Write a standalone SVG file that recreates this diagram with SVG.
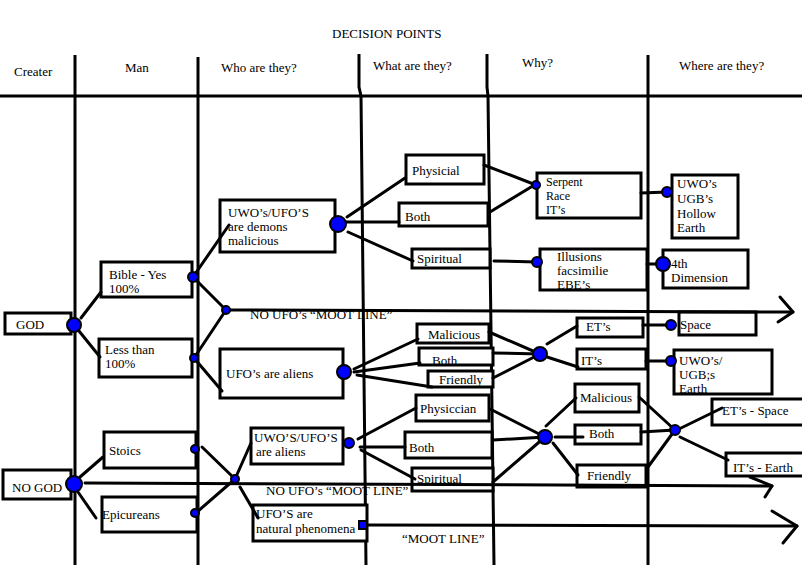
<svg xmlns="http://www.w3.org/2000/svg" width="802" height="565" viewBox="0 0 802 565">
<style>
.ln{stroke:#000;stroke-width:3;fill:none;stroke-linecap:round;stroke-linejoin:round}
.grid{stroke:#000;stroke-width:3;fill:none}
.box{fill:#fff;stroke:#000;stroke-width:3}
.nd{fill:#0000ff;stroke:#000;stroke-width:2}
text{font-family:"Liberation Serif","Times New Roman",serif;font-size:13px;fill:#000}
.sm{font-size:12px}
</style>
<rect width="802" height="565" fill="#fff"/>
<g id="header">
<line class="grid" x1="0" y1="96" x2="802" y2="96"/>
<line class="grid" x1="75" y1="55" x2="75" y2="565"/>
<line class="grid" x1="198" y1="57" x2="198" y2="565"/>
<polyline class="grid" points="359,54 359,87 361,96 366,565"/>
<polyline class="grid" points="487,54 487,87 488,96 494,565"/>
<line class="grid" x1="648" y1="55" x2="648" y2="565"/>
<text x="332" y="38">DECISION POINTS</text>
<text x="14" y="76">Creater</text>
<text x="125" y="72">Man</text>
<text x="221" y="72">Who are they?</text>
<text x="373" y="70">What are they?</text>
<text x="522" y="67">Why?</text>
<text x="679" y="70">Where are they?</text>
</g>
<g id="god"><rect class="box" x="5" y="313" width="66" height="21"/><text x="16" y="329">GOD</text></g>
<g id="bible"><rect class="box" x="101" y="262" width="91" height="35"/><text x="109" y="279">Bible - Yes</text><text x="109" y="293">100%</text></g>
<g id="less"><rect class="box" x="99" y="339" width="93" height="38"/><text x="105" y="354">Less than</text><text x="105" y="368">100%</text></g>
<g id="demons"><rect class="box" x="220" y="200" width="115" height="52"/><text x="228" y="217">UWO’s/UFO’S</text><text x="228" y="231">are demons</text><text x="228" y="245">malicious</text></g>
<g id="aliens1"><rect class="box" x="220" y="349" width="123" height="49"/><text x="226" y="378">UFO’s are aliens</text></g>
<g id="physicial"><rect class="box" x="406" y="155" width="78" height="29"/><text x="412" y="175">Physicial</text></g>
<g id="both1"><rect class="box" x="399" y="203" width="89" height="23"/><text x="405" y="221">Both</text></g>
<g id="spiritual1"><rect class="box" x="412" y="249" width="78" height="19"/><text x="417" y="263">Spiritual</text></g>
<g id="serpent"><rect class="box" x="537" y="173" width="104" height="45"/><text class="sm" x="546" y="186">Serpent</text><text class="sm" x="546" y="200">Race</text><text class="sm" x="546" y="214">IT’s</text></g>
<g id="illusions"><rect class="box" x="540" y="249" width="107" height="41"/><text x="557" y="261">Illusions</text><text x="557" y="275">facsimilie</text><text x="557" y="289">EBE’s</text></g>
<g id="hollow"><rect class="box" x="672" y="175" width="66" height="63"/><text x="677" y="188">UWO’s</text><text x="677" y="203">UGB’s</text><text x="677" y="218">Hollow</text><text x="677" y="232">Earth</text></g>
<g id="fourth"><rect class="box" x="663" y="250" width="85" height="38"/><text x="671" y="268">4th</text><text x="671" y="282">Dimension</text></g>
<g id="malicious1"><rect class="box" x="417" y="324" width="72" height="19"/><text x="428" y="339">Malicious</text></g>
<g id="both2"><rect class="box" x="419" y="348" width="74" height="17"/><text x="432" y="365">Both</text></g>
<g id="friendly1"><rect class="box" x="428" y="371" width="65" height="16"/><text x="439" y="384">Friendly</text></g>
<g id="ets"><rect class="box" x="577" y="318" width="66" height="19"/><text x="586" y="331">ET’s</text></g>
<g id="its"><rect class="box" x="577" y="349" width="69" height="20"/><text x="581" y="365">IT’s</text></g>
<g id="space"><rect class="box" x="679" y="312" width="77" height="23"/><text x="680" y="329">Space</text></g>
<g id="uwoearth"><rect class="box" x="674" y="350" width="98" height="44"/><text x="679" y="365">UWO’s/</text><text x="679" y="379">UGB;s</text><text x="679" y="393">Earth</text></g>
<g id="nogod"><rect class="box" x="3" y="470" width="68" height="29"/><text x="12" y="492">NO GOD</text></g>
<g id="stoics"><rect class="box" x="104" y="432" width="92" height="36"/><text x="109" y="455">Stoics</text></g>
<g id="epicureans"><rect class="box" x="102" y="497" width="95" height="35"/><text x="102" y="519">Epicureans</text></g>
<g id="aliens2"><rect class="box" x="251" y="428" width="92" height="36"/><text x="254" y="442">UWO’S/UFO’S</text><text x="256" y="456">are aliens</text></g>
<g id="natural"><rect class="box" x="253" y="505" width="114" height="36"/><text x="256" y="518">UFO’S are</text><text x="256" y="533">natural phenomena</text></g>
<g id="physiccian"><rect class="box" x="416" y="395" width="73" height="26"/><text x="420" y="413">Physiccian</text></g>
<g id="both3"><rect class="box" x="405" y="432" width="87" height="26"/><text x="409" y="452">Both</text></g>
<g id="spiritual2"><rect class="box" x="412" y="468" width="81" height="23"/><text x="417" y="483">Spiritual</text></g>
<g id="malicious2"><rect class="box" x="575" y="384" width="64" height="28"/><text x="580" y="402">Malicious</text></g>
<g id="both4"><rect class="box" x="575" y="425" width="66" height="19"/><text x="589" y="438">Both</text></g>
<g id="friendly2"><rect class="box" x="577" y="465" width="69" height="22"/><text x="587" y="480">Friendly</text></g>
<g id="etspace"><rect class="box" x="712" y="399" width="92" height="26"/><text x="722" y="415">ET’s - Space</text></g>
<g id="itsearth"><rect class="box" x="726" y="453" width="78" height="23"/><text x="733" y="472">IT’s - Earth</text></g>
<g id="labels">
<text x="250" y="319">NO UFO’s “MOOT LINE”</text>
<text x="266" y="495">NO UFO’s “MOOT LINE”</text>
<text x="402" y="543">“MOOT LINE”</text>
</g>
<g id="connectors">
<line class="ln" x1="81" y1="318" x2="101" y2="292"/>
<line class="ln" x1="79" y1="331" x2="100" y2="357"/>
<line class="ln" x1="193" y1="277" x2="229" y2="225"/>
<line class="ln" x1="193" y1="277" x2="226" y2="310"/>
<line class="ln" x1="194" y1="358" x2="226" y2="310"/>
<line class="ln" x1="194" y1="358" x2="222" y2="391"/>
<line class="ln" x1="226" y1="310" x2="793" y2="312"/>
<polyline class="ln" points="780,297 793,312 778,322"/>
<line class="ln" x1="347" y1="217" x2="405" y2="178"/>
<line class="ln" x1="338" y1="222" x2="399" y2="222"/>
<line class="ln" x1="348" y1="232" x2="413" y2="261"/>
<line class="ln" x1="484" y1="165" x2="536" y2="185"/>
<line class="ln" x1="490" y1="212" x2="536" y2="184"/>
<line class="ln" x1="494" y1="261" x2="537" y2="262"/>
<line class="ln" x1="641" y1="193" x2="667" y2="192"/>
<line class="ln" x1="647" y1="264" x2="663" y2="264"/>
<line class="ln" x1="354" y1="369" x2="418" y2="339"/>
<line class="ln" x1="354" y1="372" x2="420" y2="363"/>
<line class="ln" x1="357" y1="375" x2="432" y2="387"/>
<line class="ln" x1="489" y1="332" x2="540" y2="354"/>
<line class="ln" x1="493" y1="353" x2="540" y2="354"/>
<line class="ln" x1="493" y1="378" x2="540" y2="354"/>
<line class="ln" x1="547" y1="344" x2="577" y2="326"/>
<line class="ln" x1="547" y1="357" x2="578" y2="367"/>
<line class="ln" x1="643" y1="325" x2="671" y2="325"/>
<line class="ln" x1="646" y1="361" x2="671" y2="361"/>
<line class="ln" x1="80" y1="477" x2="103" y2="457"/>
<line class="ln" x1="78" y1="492" x2="96" y2="518"/>
<line class="ln" x1="85" y1="483" x2="772" y2="486"/>
<polyline class="ln" points="750,477 772,486 765,497"/>
<line class="ln" x1="202" y1="447" x2="235" y2="479"/>
<line class="ln" x1="197" y1="512" x2="235" y2="479"/>
<line class="ln" x1="235" y1="479" x2="251" y2="443"/>
<line class="ln" x1="240" y1="487" x2="258" y2="518"/>
<line class="ln" x1="363" y1="525" x2="797" y2="526"/>
<polyline class="ln" points="772,511 797,526 783,543"/>
<line class="ln" x1="358" y1="439" x2="416" y2="408"/>
<line class="ln" x1="360" y1="447" x2="405" y2="447"/>
<line class="ln" x1="361" y1="450" x2="415" y2="479"/>
<line class="ln" x1="490" y1="409" x2="545" y2="437"/>
<line class="ln" x1="493" y1="440" x2="545" y2="437"/>
<line class="ln" x1="493" y1="482" x2="545" y2="437"/>
<line class="ln" x1="546" y1="426" x2="576" y2="398"/>
<line class="ln" x1="555" y1="437" x2="583" y2="437"/>
<line class="ln" x1="553" y1="443" x2="578" y2="475"/>
<line class="ln" x1="639" y1="397" x2="675" y2="430"/>
<line class="ln" x1="641" y1="432" x2="675" y2="430"/>
<line class="ln" x1="648" y1="467" x2="675" y2="430"/>
<line class="ln" x1="679" y1="429" x2="722" y2="408"/>
<line class="ln" x1="680" y1="437" x2="728" y2="460"/>
</g>
<g id="nodes">
<circle class="nd" cx="74" cy="325" r="7"/>
<circle class="nd" cx="193" cy="277" r="5"/>
<circle class="nd" cx="194" cy="358" r="4"/>
<circle class="nd" cx="226" cy="310" r="4"/>
<circle class="nd" cx="338" cy="224" r="8"/>
<circle class="nd" cx="344" cy="372" r="7"/>
<circle class="nd" cx="536" cy="185" r="4"/>
<circle class="nd" cx="537" cy="262" r="5"/>
<circle class="nd" cx="667" cy="192" r="5"/>
<circle class="nd" cx="663" cy="264" r="7"/>
<circle class="nd" cx="540" cy="354" r="7"/>
<circle class="nd" cx="671" cy="325" r="5"/>
<circle class="nd" cx="671" cy="361" r="5"/>
<circle class="nd" cx="74" cy="484" r="8"/>
<circle class="nd" cx="195" cy="449" r="4"/>
<circle class="nd" cx="195" cy="513" r="4"/>
<circle class="nd" cx="235" cy="479" r="4"/>
<circle class="nd" cx="349" cy="443" r="5"/>
<rect class="nd" x="359" y="521" width="8" height="8"/>
<circle class="nd" cx="545" cy="437" r="7"/>
<circle class="nd" cx="675" cy="430" r="5"/>
</g>
</svg>
